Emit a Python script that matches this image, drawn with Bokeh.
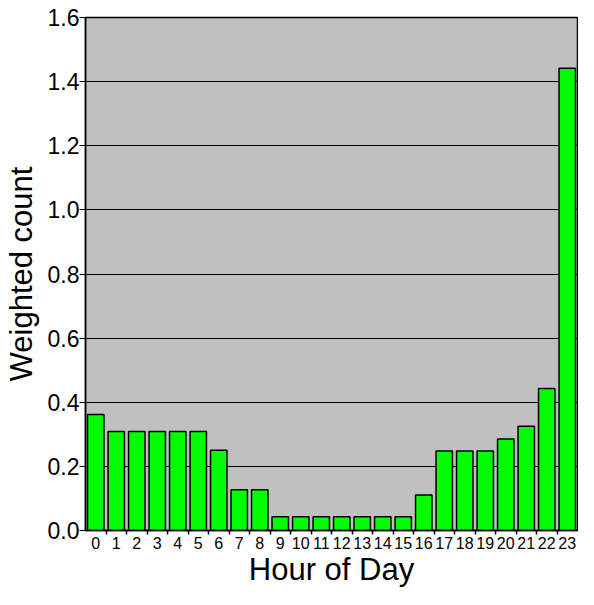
from bokeh.plotting import figure
from bokeh.models import ColumnDataSource, FixedTicker, NumeralTickFormatter, Range1d
from bokeh.embed import file_html
from bokeh.resources import INLINE

hours = list(range(24))
counts = [0.362, 0.309, 0.309, 0.309, 0.309, 0.309, 0.250, 0.127, 0.127,
          0.043, 0.043, 0.043, 0.043, 0.043, 0.043, 0.043, 0.111,
          0.248, 0.248, 0.248, 0.285, 0.325, 0.443, 1.442]
y_ticks = [0.0, 0.2, 0.4, 0.6, 0.8, 1.0, 1.2, 1.4, 1.6]

src = ColumnDataSource(dict(x=hours, top=counts))

p = figure(width=578, height=589, output_backend="svg", toolbar_location=None,
           x_range=Range1d(-0.5, 23.5), y_range=Range1d(0, 1.6),
           min_border_left=83, min_border_right=1, min_border_top=17, min_border_bottom=50)

p.background_fill_color = "#C0C0C0"
p.border_fill_color = "white"
p.outline_line_color = "black"
p.outline_line_width = 1.5

p.vbar(x="x", top="top", width=0.8, bottom=0, source=src,
       fill_color="#00FF00", line_color="black", line_width=1.5)

p.xgrid.grid_line_color = None
p.ygrid.grid_line_color = "black"
p.ygrid.grid_line_width = 1.2
p.ygrid.ticker = FixedTicker(ticks=y_ticks)

p.yaxis.ticker = FixedTicker(ticks=y_ticks)
p.yaxis.formatter = NumeralTickFormatter(format="0.0")
p.yaxis.major_label_text_font = "Liberation Sans"
p.yaxis.major_label_text_font_size = "23px"
p.yaxis.major_label_text_color = "black"
p.yaxis.major_tick_out = 6
p.yaxis.major_tick_in = 0
p.yaxis.minor_tick_line_color = None
p.yaxis.major_label_standoff = 0
p.yaxis.axis_line_color = "black"
p.yaxis.axis_line_width = 1.5
p.yaxis.axis_label = "Weighted count"
p.yaxis.axis_label_text_font = "Liberation Sans"
p.yaxis.axis_label_text_font_size = "31px"
p.yaxis.axis_label_text_font_style = "normal"
p.yaxis.axis_label_text_color = "black"
p.yaxis.axis_label_standoff = 6

p.xaxis.ticker = FixedTicker(ticks=hours, minor_ticks=[h + 0.5 for h in hours[:-1]])
p.xaxis.major_tick_line_color = None
p.xaxis.major_tick_out = 0
p.xaxis.major_tick_in = 0
p.xaxis.minor_tick_out = 4
p.xaxis.minor_tick_in = 0
p.xaxis.minor_tick_line_color = "black"
p.xaxis.minor_tick_line_width = 1.5
p.xaxis.major_label_text_font = "Liberation Sans"
p.xaxis.major_label_text_font_size = "16px"
p.xaxis.major_label_text_color = "black"
p.xaxis.major_label_standoff = 2
p.xaxis.axis_line_color = "black"
p.xaxis.axis_line_width = 1.5
p.xaxis.axis_label = "Hour of Day"
p.xaxis.axis_label_text_font = "Liberation Sans"
p.xaxis.axis_label_text_font_size = "31px"
p.xaxis.axis_label_text_font_style = "normal"
p.xaxis.axis_label_text_color = "black"
p.xaxis.axis_label_standoff = 0

open("out.html", "w").write(file_html(p, INLINE))
